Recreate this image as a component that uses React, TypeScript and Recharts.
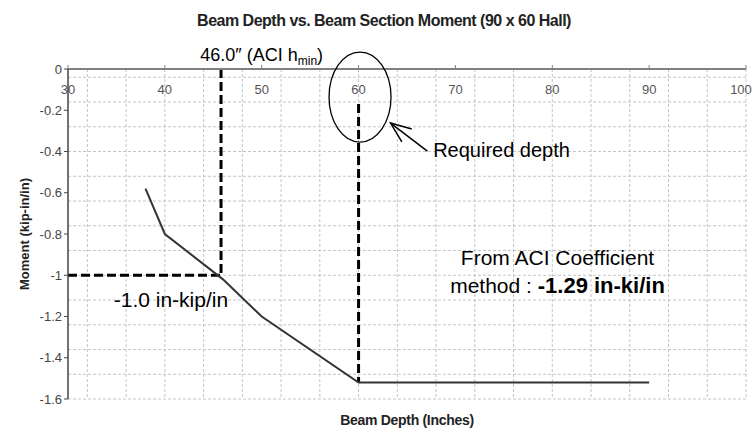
import { LineChart, Line, XAxis, YAxis, CartesianGrid, ReferenceLine, ReferenceDot, Label } from "recharts"

const depths = [38, 40, 46, 50, 60, 90]
const moments = [-0.58, -0.8, -1.02, -1.2, -1.52, -1.52]
const xTicks = [30, 40, 50, 60, 70, 80, 90, 100]
const yTicks = [0, -0.2, -0.4, -0.6, -0.8, -1, -1.2, -1.4, -1.6]

// annotation anchors (data units)
const aciDepth = 45.8
const aciMoment = -1.0
const requiredDepth = 60
const requiredMoment = -1.52
const requiredDashTop = -0.17

const FONT = "'Liberation Sans', Arial, sans-serif"

const data = depths.map((d, i) => ({ depth: d, moment: moments[i] }))

// minor grid every 2 in and every 0.04 kip-in/in
const gridX: number[] = []
for (let v = 30; v <= 100; v += 2) gridX.push(v)
const gridY: number[] = []
for (let i = 0; i <= 40; i++) gridY.push(-Math.round(i * 4) / 100)

const TopTick = (props: any) => {
  const { x, y, payload } = props
  return (
    <text x={x} y={y + 31} textAnchor="middle" fill="#555" fontSize={13} fontFamily={FONT}>
      {payload.value}
    </text>
  )
}

const Arrow = (props: any) => {
  const { x1, y1, x2, y2 } = props
  const ang = Math.atan2(y1 - y2, x1 - x2)
  const len = 22
  const spread = 0.38
  const a1x = x1 - len * Math.cos(ang - spread)
  const a1y = y1 - len * Math.sin(ang - spread)
  const a2x = x1 - len * Math.cos(ang + spread)
  const a2y = y1 - len * Math.sin(ang + spread)
  return (
    <g stroke="#000" strokeWidth={1.5} fill="none">
      <line x1={x1} y1={y1} x2={x2} y2={y2} />
      <polyline points={`${a1x},${a1y} ${x1},${y1} ${a2x},${a2y}`} />
    </g>
  )
}

export default function App() {
  return (
    <div style={{ position: "absolute", left: 0, top: 0, width: 753, height: 429, background: "#fff", fontFamily: FONT }}>
      <div
        style={{
          position: "absolute",
          top: 12,
          left: 0,
          width: 768,
          textAlign: "center",
          fontSize: 16,
          fontWeight: "bold",
          letterSpacing: -0.5,
          color: "#222",
        }}
      >
        Beam Depth vs. Beam Section Moment (90 x 60 Hall)
      </div>
      <div
        style={{
          position: "absolute",
          top: 412,
          left: 0,
          width: 814,
          textAlign: "center",
          fontSize: 14,
          fontWeight: "bold",
          letterSpacing: -0.3,
          color: "#222",
        }}
      >
        Beam Depth (Inches)
      </div>
      <LineChart width={753} height={429} data={data} margin={{ top: 49, right: 7, bottom: 30, left: 8 }}>
        <CartesianGrid
          stroke="#c4c4c4"
          strokeDasharray="3 2"
          verticalValues={gridX}
          horizontalValues={gridY}
        />
        <XAxis
          dataKey="depth"
          type="number"
          orientation="top"
          domain={[30, 100]}
          ticks={xTicks}
          height={20}
          tickSize={4}
          tick={<TopTick />}
          axisLine={{ stroke: "#808080", strokeWidth: 2 }}
          tickLine={{ stroke: "#808080" }}
          allowDataOverflow
        />
        <YAxis
          type="number"
          domain={[-1.6, 0]}
          ticks={yTicks}
          width={60}
          tickSize={4}
          tick={{ fill: "#444", fontSize: 13, fontFamily: FONT }}
          axisLine={{ stroke: "#444", strokeWidth: 1.5 }}
          tickLine={{ stroke: "#444" }}
        >
          <Label
            value="Moment (kip-in/in)"
            angle={-90}
            position="center"
            dx={-14}
            style={{ fontSize: 13, fontWeight: "bold", fill: "#222", fontFamily: FONT, textAnchor: "middle" }}
          />
        </YAxis>

        <ReferenceLine
          segment={[{ x: aciDepth, y: 0 }, { x: aciDepth, y: aciMoment }]}
          stroke="#000"
          strokeWidth={3}
          strokeDasharray="9 4"
          ifOverflow="visible"
        />
        <ReferenceLine
          segment={[{ x: 30, y: aciMoment }, { x: aciDepth, y: aciMoment }]}
          stroke="#000"
          strokeWidth={3}
          strokeDasharray="9 4"
          ifOverflow="visible"
        />
        <ReferenceLine
          segment={[{ x: requiredDepth, y: requiredDashTop }, { x: requiredDepth, y: requiredMoment }]}
          stroke="#000"
          strokeWidth={3}
          strokeDasharray="9 4"
          ifOverflow="visible"
        />

        <Line
          dataKey="moment"
          stroke="#333"
          strokeWidth={2}
          dot={false}
          isAnimationActive={false}
        />

        <ReferenceDot
          x={60.15}
          y={-0.136}
          ifOverflow="visible"
          shape={(p: any) => <ellipse cx={p.cx} cy={p.cy} rx={31} ry={45} fill="none" stroke="#000" strokeWidth={1.3} />}
        />
        <ReferenceLine
          segment={[{ x: 63.3, y: -0.262 }, { x: 67.1, y: -0.398 }]}
          ifOverflow="visible"
          shape={(p: any) => <Arrow {...p} />}
        />
        <ReferenceDot
          x={67.7}
          y={-0.427}
          ifOverflow="visible"
          shape={(p: any) => (
            <text x={p.cx} y={p.cy} fontSize={20} fontFamily={FONT} fill="#000">
              Required depth
            </text>
          )}
        />
        <ReferenceDot
          x={50}
          y={0}
          ifOverflow="visible"
          shape={(p: any) => (
            <text x={p.cx} y={p.cy - 8} fontSize={18} fontFamily={FONT} fill="#000" textAnchor="middle">
              46.0″ (ACI h
              <tspan fontSize={12} dy={4}>min</tspan>
              <tspan dy={-4}>)</tspan>
            </text>
          )}
        />
        <ReferenceDot
          x={40.63}
          y={-1.152}
          ifOverflow="visible"
          shape={(p: any) => (
            <text x={p.cx} y={p.cy} fontSize={21} fontFamily={FONT} fill="#000" textAnchor="middle">
              -1.0 in-kip/in
            </text>
          )}
        />
        <ReferenceDot
          x={80.54}
          y={-0.95}
          ifOverflow="visible"
          shape={(p: any) => (
            <text x={p.cx} y={p.cy} fontSize={21} fontFamily={FONT} fill="#000" textAnchor="middle">
              From ACI Coefficient
            </text>
          )}
        />
        <ReferenceDot
          x={80.54}
          y={-1.085}
          ifOverflow="visible"
          shape={(p: any) => (
            <text x={p.cx} y={p.cy} fontSize={21} fontFamily={FONT} fill="#000" textAnchor="middle">
              method : <tspan fontWeight="bold" fontSize={22}>-1.29 in-ki/in</tspan>
            </text>
          )}
        />
      </LineChart>
    </div>
  )
}
